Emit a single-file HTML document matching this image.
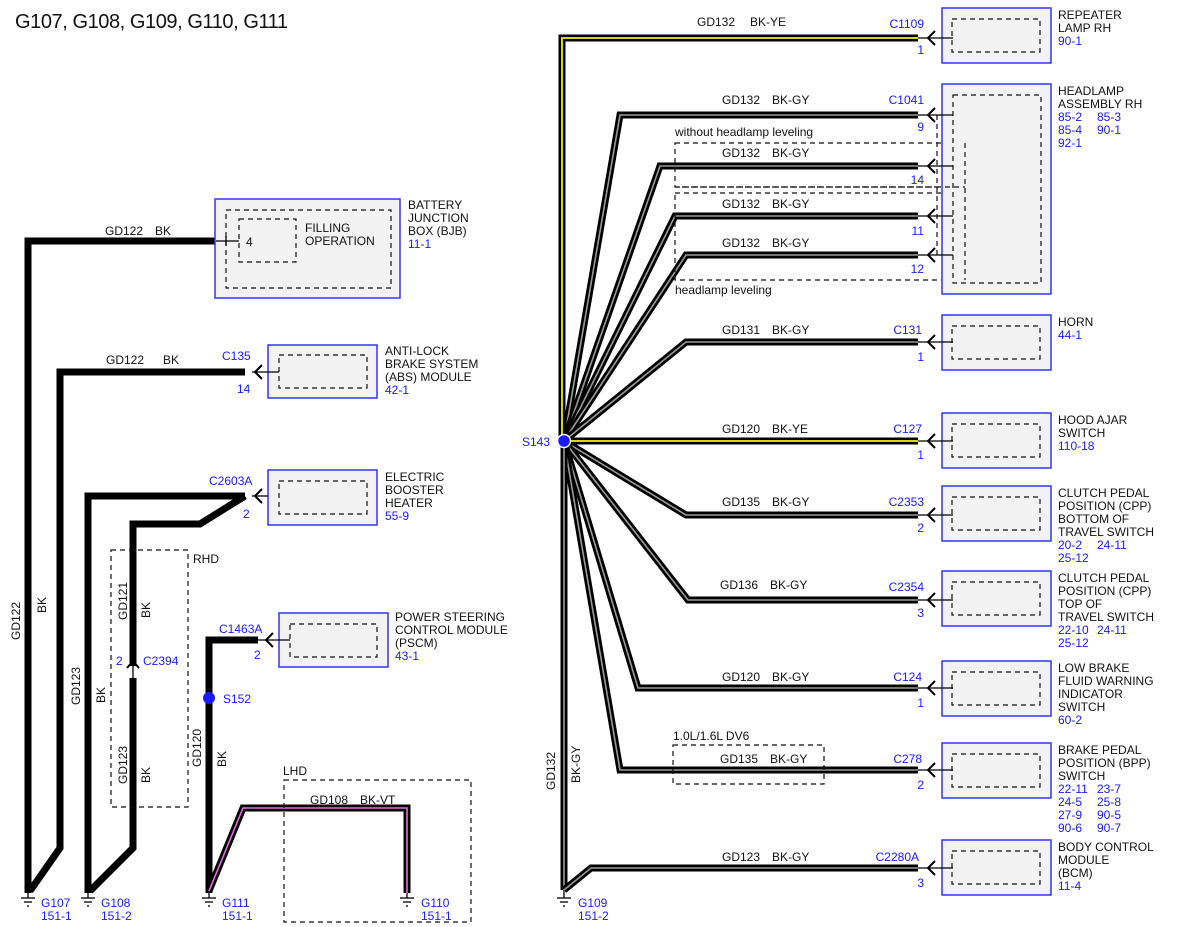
<!DOCTYPE html>
<html><head><meta charset="utf-8"><style>
html,body{margin:0;padding:0;background:#fff;}
svg{display:block;}
text{font-family:"Liberation Sans",sans-serif;font-size:12px;fill:#111;}
.b{fill:#1a1aff;}
.box{fill:#f2f2f2;stroke:#3333ff;stroke-width:1.5;}
.dsh{fill:none;stroke:#111;stroke-width:1.2;stroke-dasharray:5,4;}
.w{fill:none;stroke:#000;stroke-width:7;stroke-linejoin:miter;}
.gy{fill:none;stroke:#9a9a9a;stroke-width:1.6;}
.ye{fill:none;stroke:#d8d800;stroke-width:2;}
.vt{fill:none;stroke:#e070e0;stroke-width:1.6;}
.ln{fill:none;stroke:#000;stroke-width:1.3;}
.ar{fill:none;stroke:#000;stroke-width:2;}
</style></head><body>
<svg width="1200" height="927" viewBox="0 0 1200 927" xmlns="http://www.w3.org/2000/svg">
<text x="15" y="28" style="font-size:20px" textLength="273">G107, G108, G109, G110, G111</text>

<!-- LEFT WIRES -->
<polyline class="w" points="216,241 28,241 28,893"/>
<polyline class="w" points="245,372 60,372 60,848 30,891"/>
<polyline class="w" points="245,496 88,496 88,893"/>
<polyline class="w" points="245,496 200,524 133,524 133,666"/>
<polyline class="w" points="133,678 133,848 90,891"/>
<polyline class="w" points="258,640 209,640 209,893"/>
<polyline class="w" points="209,891 243,808 407,808 407,893"/>
<polyline class="vt" points="209,891 243,808 407,808 407,893"/>

<!-- C2394 -->
<path class="ar" d="M127,668 L133,661 L139,668"/>
<line class="ln" x1="133" y1="661" x2="133" y2="680"/>
<text x="116" y="665" class="b">2</text><text x="143" y="665" class="b">C2394</text>

<!-- RHD / LHD boxes -->
<rect class="dsh" x="111" y="550" width="77" height="257"/>
<text x="193" y="563">RHD</text>
<rect class="dsh" x="284" y="780" width="187" height="142"/>
<text x="283" y="775">LHD</text>
<text x="310" y="804">GD108</text><text x="360" y="804">BK-VT</text>

<!-- S152 -->
<circle cx="209" cy="698" r="6" fill="#1a1aff"/>
<text x="223" y="703" class="b">S152</text>

<!-- vertical labels -->
<text transform="translate(20,640) rotate(-90)">GD122</text>
<text transform="translate(46,613) rotate(-90)">BK</text>
<text transform="translate(80,705) rotate(-90)">GD123</text>
<text transform="translate(105,703) rotate(-90)">BK</text>
<text transform="translate(127,620) rotate(-90)">GD121</text>
<text transform="translate(150,618) rotate(-90)">BK</text>
<text transform="translate(127,784) rotate(-90)">GD123</text>
<text transform="translate(150,783) rotate(-90)">BK</text>
<text transform="translate(201,767) rotate(-90)">GD120</text>
<text transform="translate(226,767) rotate(-90)">BK</text>

<!-- left wire labels -->
<text x="105" y="235">GD122</text><text x="155" y="235">BK</text>
<text x="106" y="364">GD122</text><text x="163" y="364">BK</text>

<!-- BJB -->
<rect class="box" x="215" y="199" width="185" height="99"/>
<rect class="dsh" x="226" y="210" width="165" height="78"/>
<rect class="dsh" x="239" y="219" width="57" height="43"/>
<line class="ln" x1="216" y1="241" x2="239" y2="241"/><line class="ln" x1="226" y1="236" x2="226" y2="246"/>
<text x="246" y="246">4</text>
<text x="305" y="232">FILLING</text><text x="305" y="245">OPERATION</text>
<text x="408" y="209">BATTERY</text><text x="408" y="222">JUNCTION</text><text x="408" y="235">BOX (BJB)</text><text x="408" y="248" class="b">11-1</text>

<!-- ABS -->
<rect class="box" x="268" y="345" width="109" height="53"/>
<rect class="dsh" x="279" y="355" width="88" height="33"/>
<line class="ln" x1="252" y1="372" x2="279" y2="372"/>
<path class="ar" d="M262,365 L255,372 L262,379"/>
<text x="222" y="360" class="b">C135</text><text x="237" y="393" class="b">14</text>
<text x="385" y="355">ANTI-LOCK</text><text x="385" y="368">BRAKE SYSTEM</text><text x="385" y="381">(ABS) MODULE</text><text x="385" y="394" class="b">42-1</text>

<!-- EBH -->
<rect class="box" x="268" y="470" width="109" height="55"/>
<rect class="dsh" x="279" y="481" width="88" height="33"/>
<line class="ln" x1="252" y1="496" x2="268" y2="496"/>
<path class="ar" d="M262,489 L255,496 L262,503"/>
<text x="209" y="485" class="b">C2603A</text><text x="243" y="518" class="b">2</text>
<text x="385" y="481">ELECTRIC</text><text x="385" y="494">BOOSTER</text><text x="385" y="507">HEATER</text><text x="385" y="520" class="b">55-9</text>

<!-- PSCM -->
<rect class="box" x="279" y="613" width="109" height="54"/>
<rect class="dsh" x="290" y="624" width="87" height="33"/>
<line class="ln" x1="258" y1="640" x2="290" y2="640"/>
<path class="ar" d="M273,633 L266,640 L273,647"/>
<text x="219" y="633" class="b">C1463A</text><text x="254" y="659" class="b">2</text>
<text x="395" y="621">POWER STEERING</text><text x="395" y="634">CONTROL MODULE</text><text x="395" y="647">(PSCM)</text><text x="395" y="660" class="b">43-1</text>

<!-- grounds left -->
<g class="ln">
<line x1="28" y1="893" x2="28" y2="898"/><line x1="21" y1="898" x2="35" y2="898"/><line x1="24" y1="902" x2="32" y2="902"/><line x1="27" y1="906" x2="29" y2="906"/>
<line x1="88" y1="893" x2="88" y2="898"/><line x1="81" y1="898" x2="95" y2="898"/><line x1="84" y1="902" x2="92" y2="902"/><line x1="87" y1="906" x2="89" y2="906"/>
<line x1="209" y1="893" x2="209" y2="898"/><line x1="202" y1="898" x2="216" y2="898"/><line x1="205" y1="902" x2="213" y2="902"/><line x1="208" y1="906" x2="210" y2="906"/>
<line x1="407" y1="893" x2="407" y2="898"/><line x1="400" y1="898" x2="414" y2="898"/><line x1="403" y1="902" x2="411" y2="902"/><line x1="406" y1="906" x2="408" y2="906"/>
<line x1="564" y1="890" x2="564" y2="898"/><line x1="557" y1="898" x2="571" y2="898"/><line x1="560" y1="902" x2="568" y2="902"/><line x1="563" y1="906" x2="565" y2="906"/>
</g>
<text x="41" y="907" class="b">G107</text><text x="41" y="920" class="b">151-1</text>
<text x="101" y="907" class="b">G108</text><text x="101" y="920" class="b">151-2</text>
<text x="222" y="907" class="b">G111</text><text x="222" y="920" class="b">151-1</text>
<text x="421" y="907" class="b">G110</text><text x="421" y="920" class="b">151-1</text>
<text x="578" y="907" class="b">G109</text><text x="578" y="920" class="b">151-2</text>

<!-- RIGHT WIRES -->
<g>
<polyline class="w" points="918,115 620,115 564,441"/><polyline class="gy" points="918,115 620,115 564,441"/>
<polyline class="w" points="918,166 660,166 564,441"/><polyline class="gy" points="918,166 660,166 564,441"/>
<polyline class="w" points="918,216 675,216 564,441"/><polyline class="gy" points="918,216 675,216 564,441"/>
<polyline class="w" points="918,255 686,255 564,441"/><polyline class="gy" points="918,255 686,255 564,441"/>
<polyline class="w" points="918,342 686,342 564,441"/><polyline class="gy" points="918,342 686,342 564,441"/>
<polyline class="w" points="918,515 686,515 564,441"/><polyline class="gy" points="918,515 686,515 564,441"/>
<polyline class="w" points="918,600 688,600 564,441"/><polyline class="gy" points="918,600 688,600 564,441"/>
<polyline class="w" points="918,688 638,688 564,441"/><polyline class="gy" points="918,688 638,688 564,441"/>
<polyline class="w" points="918,770 620,770 564,441"/><polyline class="gy" points="918,770 620,770 564,441"/>
<polyline class="w" points="564,441 564,890"/><polyline class="gy" points="564,441 564,890"/>
<polyline class="w" points="918,868 591,868 564,890"/><polyline class="gy" points="918,868 591,868 564,890"/>
<polyline class="w" points="918,38 562,38 562,441"/><polyline class="ye" points="918,38 562,38 562,441"/>
<polyline class="w" points="918,441 564,441"/><polyline class="ye" points="918,441 564,441"/>
</g>
<circle cx="564" cy="441" r="6.5" fill="#1a1aff" stroke="#fff" stroke-width="1.5"/>
<text x="522" y="446" class="b">S143</text>
<text transform="translate(555,790) rotate(-90)">GD132</text>
<text transform="translate(580,783) rotate(-90)">BK-GY</text>

<!-- headlamp dashed groups -->
<rect class="dsh" x="675" y="143" width="290" height="44"/>
<text x="675" y="136">without headlamp leveling</text>
<rect class="dsh" x="675" y="193" width="290" height="87"/>
<text x="675" y="294">headlamp leveling</text>
<line class="dsh" x1="937" y1="115" x2="937" y2="258"/>
<rect class="dsh" x="673" y="745" width="151" height="39"/>
<text x="673" y="740">1.0L/1.6L DV6</text>

<!-- wire labels right -->
<text x="697" y="26">GD132</text><text x="750" y="26">BK-YE</text>
<text x="722" y="104">GD132</text><text x="772" y="104">BK-GY</text>
<text x="722" y="157">GD132</text><text x="772" y="157">BK-GY</text>
<text x="722" y="208">GD132</text><text x="772" y="208">BK-GY</text>
<text x="722" y="247">GD132</text><text x="772" y="247">BK-GY</text>
<text x="722" y="334">GD131</text><text x="772" y="334">BK-GY</text>
<text x="722" y="433">GD120</text><text x="772" y="433">BK-YE</text>
<text x="722" y="506">GD135</text><text x="772" y="506">BK-GY</text>
<text x="720" y="589">GD136</text><text x="770" y="589">BK-GY</text>
<text x="722" y="681">GD120</text><text x="772" y="681">BK-GY</text>
<text x="720" y="763">GD135</text><text x="770" y="763">BK-GY</text>
<text x="722" y="861">GD123</text><text x="772" y="861">BK-GY</text>

<!-- connector labels -->
<g class="b" text-anchor="end">
<text x="924" y="28" class="b">C1109</text><text x="924" y="54" class="b">1</text>
<text x="924" y="104" class="b">C1041</text><text x="924" y="131" class="b">9</text>
<text x="924" y="184" class="b">14</text>
<text x="924" y="235" class="b">11</text>
<text x="924" y="273" class="b">12</text>
<text x="922" y="334" class="b">C131</text><text x="924" y="361" class="b">1</text>
<text x="922" y="433" class="b">C127</text><text x="924" y="459" class="b">1</text>
<text x="924" y="506" class="b">C2353</text><text x="924" y="532" class="b">2</text>
<text x="924" y="591" class="b">C2354</text><text x="924" y="617" class="b">3</text>
<text x="922" y="681" class="b">C124</text><text x="924" y="707" class="b">1</text>
<text x="922" y="763" class="b">C278</text><text x="924" y="789" class="b">2</text>
<text x="919" y="861" class="b">C2280A</text><text x="924" y="887" class="b">3</text>
</g>

<!-- boxes right -->
<rect class="box" x="942" y="8" width="109" height="55"/><rect class="dsh" x="952" y="19" width="88" height="33"/>
<rect class="box" x="942" y="84" width="109" height="210"/><rect class="dsh" x="953" y="95" width="88" height="188"/>
<rect class="box" x="942" y="315" width="109" height="55"/><rect class="dsh" x="952" y="326" width="88" height="33"/>
<rect class="box" x="942" y="413" width="109" height="55"/><rect class="dsh" x="952" y="424" width="88" height="33"/>
<rect class="box" x="942" y="486" width="109" height="55"/><rect class="dsh" x="952" y="497" width="88" height="33"/>
<rect class="box" x="942" y="571" width="109" height="55"/><rect class="dsh" x="952" y="582" width="88" height="33"/>
<rect class="box" x="942" y="661" width="109" height="55"/><rect class="dsh" x="952" y="672" width="88" height="33"/>
<rect class="box" x="942" y="743" width="109" height="55"/><rect class="dsh" x="952" y="754" width="88" height="33"/>
<rect class="box" x="942" y="840" width="109" height="55"/><rect class="dsh" x="952" y="851" width="88" height="33"/>
<line class="dsh" x1="675" y1="187" x2="965" y2="187" />
<line class="dsh" x1="965" y1="143" x2="965" y2="280"/>

<!-- arrows -->
<g>
<g class="ln"><line x1="918" y1="38" x2="953" y2="38"/><line x1="918" y1="115" x2="953" y2="115"/><line x1="918" y1="166" x2="953" y2="166"/><line x1="918" y1="216" x2="953" y2="216"/><line x1="918" y1="255" x2="953" y2="255"/><line x1="918" y1="342" x2="953" y2="342"/><line x1="918" y1="441" x2="953" y2="441"/><line x1="918" y1="515" x2="953" y2="515"/><line x1="918" y1="600" x2="953" y2="600"/><line x1="918" y1="688" x2="953" y2="688"/><line x1="918" y1="770" x2="953" y2="770"/><line x1="918" y1="868" x2="953" y2="868"/></g>
<path class="ar" d="M935,31 L928,38 L935,45 M935,108 L928,115 L935,122 M935,159 L928,166 L935,173 M935,209 L928,216 L935,223 M935,248 L928,255 L935,262 M935,335 L928,342 L935,349 M935,434 L928,441 L935,448 M935,508 L928,515 L935,522 M935,593 L928,600 L935,607 M935,681 L928,688 L935,695 M935,763 L928,770 L935,777 M935,861 L928,868 L935,875"/>
</g>

<!-- right labels -->
<text x="1058" y="19">REPEATER</text><text x="1058" y="32">LAMP RH</text><text x="1058" y="45" class="b">90-1</text>
<text x="1058" y="95">HEADLAMP</text><text x="1058" y="108">ASSEMBLY RH</text>
<text x="1058" y="121" class="b">85-2</text><text x="1097" y="121" class="b">85-3</text>
<text x="1058" y="134" class="b">85-4</text><text x="1097" y="134" class="b">90-1</text>
<text x="1058" y="147" class="b">92-1</text>
<text x="1058" y="326">HORN</text><text x="1058" y="339" class="b">44-1</text>
<text x="1058" y="424">HOOD AJAR</text><text x="1058" y="437">SWITCH</text><text x="1058" y="450" class="b">110-18</text>
<text x="1058" y="497">CLUTCH PEDAL</text><text x="1058" y="510">POSITION (CPP)</text><text x="1058" y="523">BOTTOM OF</text><text x="1058" y="536">TRAVEL SWITCH</text>
<text x="1058" y="549" class="b">20-2</text><text x="1097" y="549" class="b">24-11</text><text x="1058" y="562" class="b">25-12</text>
<text x="1058" y="582">CLUTCH PEDAL</text><text x="1058" y="595">POSITION (CPP)</text><text x="1058" y="608">TOP OF</text><text x="1058" y="621">TRAVEL SWITCH</text>
<text x="1058" y="634" class="b">22-10</text><text x="1097" y="634" class="b">24-11</text><text x="1058" y="647" class="b">25-12</text>
<text x="1058" y="672">LOW BRAKE</text><text x="1058" y="685">FLUID WARNING</text><text x="1058" y="698">INDICATOR</text><text x="1058" y="711">SWITCH</text><text x="1058" y="724" class="b">60-2</text>
<text x="1058" y="754">BRAKE PEDAL</text><text x="1058" y="767">POSITION (BPP)</text><text x="1058" y="780">SWITCH</text>
<text x="1058" y="793" class="b">22-11</text><text x="1097" y="793" class="b">23-7</text>
<text x="1058" y="806" class="b">24-5</text><text x="1097" y="806" class="b">25-8</text>
<text x="1058" y="819" class="b">27-9</text><text x="1097" y="819" class="b">90-5</text>
<text x="1058" y="832" class="b">90-6</text><text x="1097" y="832" class="b">90-7</text>
<text x="1058" y="851">BODY CONTROL</text><text x="1058" y="864">MODULE</text><text x="1058" y="877">(BCM)</text><text x="1058" y="890" class="b">11-4</text>
</svg>
</body></html>
